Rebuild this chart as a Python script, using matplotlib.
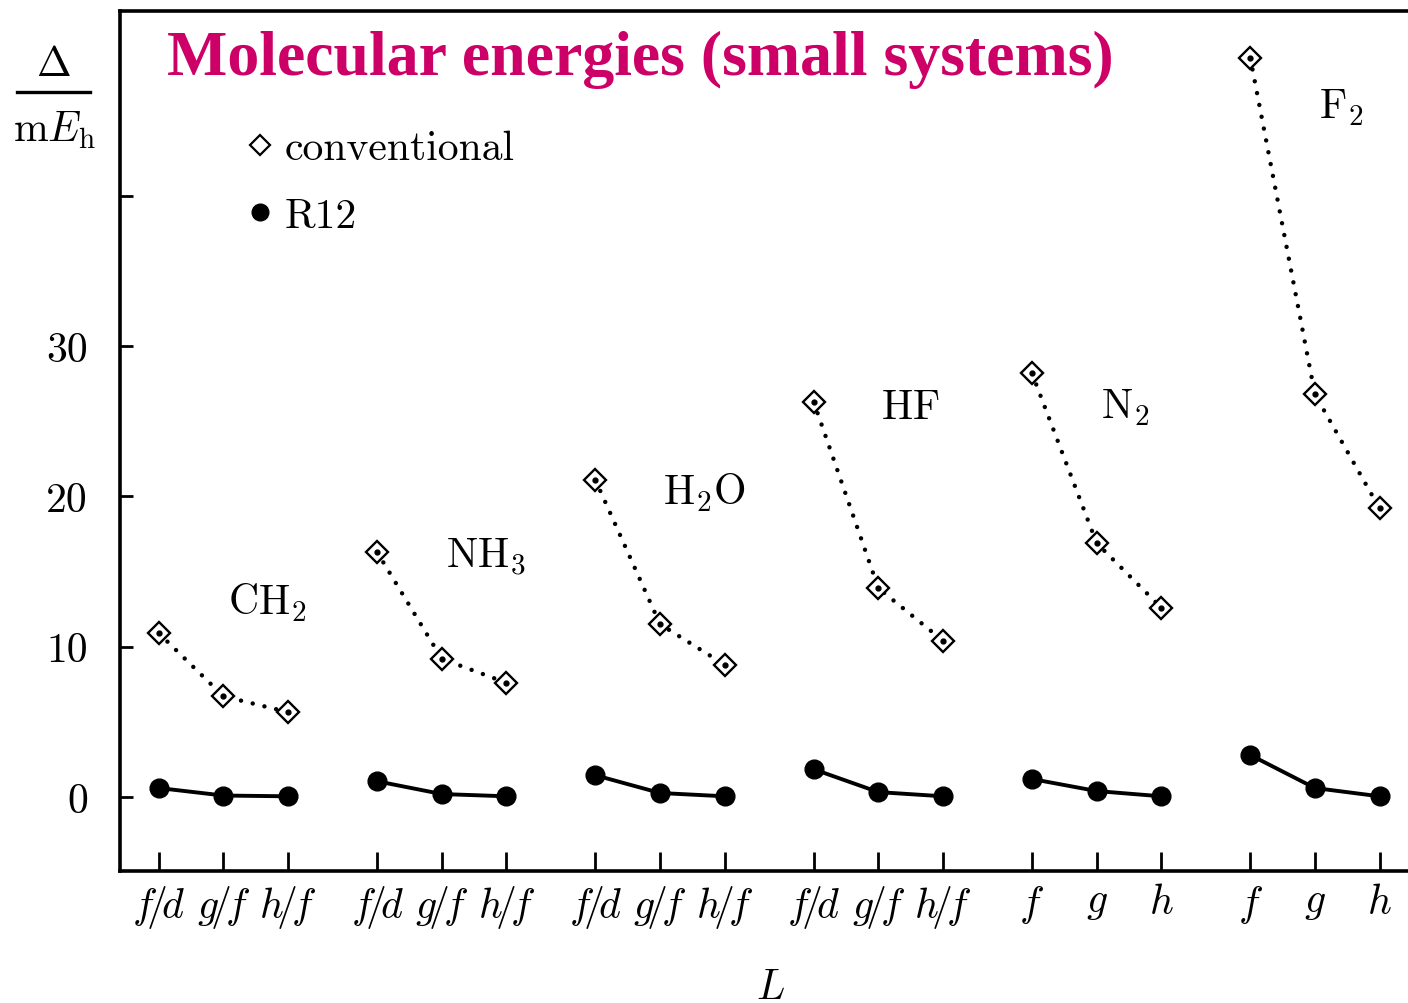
import numpy as np
import matplotlib
matplotlib.use("Agg")
import matplotlib.pyplot as plt
from matplotlib.lines import Line2D

plt.rcParams['font.family'] = 'cmr10'
plt.rcParams['mathtext.fontset'] = 'cm'
plt.rcParams['axes.formatter.use_mathtext'] = True

molecules = [r'$\mathrm{CH}_2$', r'$\mathrm{NH}_3$', r'$\mathrm{H}_2\mathrm{O}$',
             r'$\mathrm{HF}$', r'$\mathrm{N}_2$', r'$\mathrm{F}_2$']
tick_labels = [r'$f\!/\!d$', r'$g\!/\!f$', r'$h\!/\!f$'] * 4 + [r'$f$', r'$g$', r'$h$'] * 2

conventional = [
    [10.9, 6.7, 5.65],
    [16.3, 9.2, 7.6],
    [21.1, 11.5, 8.8],
    [26.3, 13.9, 10.4],
    [28.2, 16.9, 12.6],
    [49.2, 26.8, 19.2],
]
r12 = [
    [0.6, 0.1, 0.05],
    [1.05, 0.2, 0.05],
    [1.45, 0.27, 0.05],
    [1.85, 0.33, 0.05],
    [1.2, 0.4, 0.05],
    [2.8, 0.6, 0.05],
]
# label anchor (relative to group start x, y value)
label_pos = [(1.68, 13.0), (1.68, 16.0), (1.68, 20.3), (1.5, 25.95), (1.44, 25.95), (1.4, 45.9)]

group_gap = 3.375

fig = plt.figure(figsize=(14.08, 10.04), dpi=100)
ax = fig.add_axes([120 / 1408, 1 - 872 / 1004, 1300 / 1408, 860 / 1004])

xticks = []
for g in range(6):
    x = g * group_gap + np.arange(3)
    xticks.extend(x)
    ax.plot(x, conventional[g], color='black', lw=3.2, linestyle=(0, (0.01, 2.7)),
            dash_capstyle='round', zorder=2)
    ax.plot(x, conventional[g], linestyle='none', marker='D', markersize=11,
            markerfacecolor='white', markeredgecolor='black', markeredgewidth=1.7, zorder=3)
    ax.plot(x, conventional[g], linestyle='none', marker='o', markersize=3.5,
            color='black', zorder=4)
    ax.plot(x, r12[g], color='black', lw=2.8, marker='o', markersize=13.5, zorder=3)
    lx, ly = label_pos[g]
    ax.text(g * group_gap + lx, ly, molecules[g], fontsize=30, ha='center', va='center')

ax.set_xlim(-0.6, 19.5)
ax.set_ylim(-4.92, 52.3)
ax.set_xticks(xticks)
ax.set_xticklabels(tick_labels, fontsize=30)
ax.set_yticks([0, 10, 20, 30, 40])
ax.set_yticklabels(['0', '10', '20', '30', ''], fontsize=30)
ax.tick_params(axis='x', direction='in', length=14, width=2, pad=9)
ax.tick_params(axis='y', direction='in', length=9, width=2, pad=23)
for s in ['left', 'bottom', 'top']:
    ax.spines[s].set_linewidth(2.6)
ax.spines['right'].set_visible(False)

handles = [
    Line2D([], [], linestyle='none', marker='D', markersize=10, markerfacecolor='white',
           markeredgecolor='black', markeredgewidth=1.6, label='conventional'),
    Line2D([], [], linestyle='none', marker='o', markersize=12, color='black', label='R12'),
]
ax.legend(handles=handles, loc='upper left', bbox_to_anchor=(0.082, 0.886), frameon=False,
          fontsize=30, handlelength=0.6, handletextpad=0.3, borderpad=0, labelspacing=0.72)

ax.text(0.036, 0.944, 'Molecular energies (small systems)', transform=ax.transAxes,
        fontsize=46, fontweight='bold', family='Liberation Serif', color='#CC0066',
        ha='left', va='center')

# y label as a fraction
fig.text(53 / 1408, 1 - 65 / 1004, r'$\Delta$', fontsize=30, ha='center', va='center')
fig.add_artist(Line2D([17 / 1408, 90 / 1408], [1 - 93 / 1004, 1 - 93 / 1004],
                      color='black', lw=2.4, transform=fig.transFigure))
fig.text(55 / 1408, 1 - 130 / 1004, r'$\mathrm{m}E_\mathrm{h}$', fontsize=30,
         ha='center', va='center')
fig.text(770 / 1408, 1 - 988 / 1004, r'$L$', fontsize=30, ha='center', va='center')

fig.savefig('out.png', dpi=100)
